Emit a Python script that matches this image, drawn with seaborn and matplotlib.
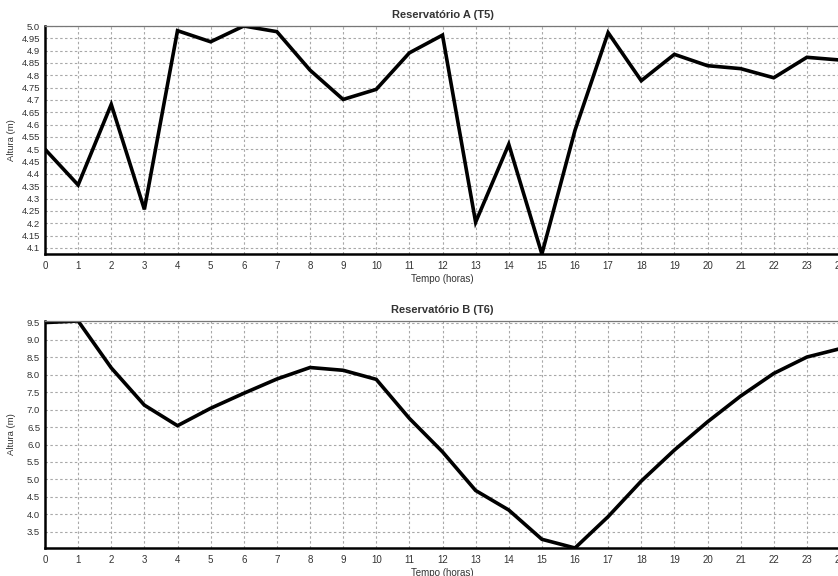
import matplotlib
matplotlib.use("Agg")
import matplotlib.pyplot as plt
import seaborn as sns
import pandas as pd

hours = list(range(25))

nivel_a = [4.500, 4.355, 4.682, 4.256, 4.981, 4.936, 5.000, 4.977, 4.821, 4.702,
           4.743, 4.891, 4.963, 4.204, 4.520, 4.075, 4.577, 4.973, 4.778, 4.885,
           4.839, 4.827, 4.790, 4.873, 4.862]

nivel_b = [9.50, 9.545, 8.20, 7.13, 6.54, 7.04, 7.47, 7.88, 8.21, 8.13,
           7.87, 6.75, 5.79, 4.68, 4.12, 3.28, 3.03, 3.93, 4.95, 5.84,
           6.65, 7.39, 8.04, 8.51, 8.75]

ticks_a = [4.1, 4.15, 4.2, 4.25, 4.3, 4.35, 4.4, 4.45, 4.5, 4.55, 4.6, 4.65,
           4.7, 4.75, 4.8, 4.85, 4.9, 4.95, 5.0]
labels_a = ["4.1", "4.15", "4.2", "4.25", "4.3", "4.35", "4.4", "4.45", "4.5",
            "4.55", "4.6", "4.65", "4.7", "4.75", "4.8", "4.85", "4.9", "4.95", "5.0"]
ticks_b = [3.5, 4.0, 4.5, 5.0, 5.5, 6.0, 6.5, 7.0, 7.5, 8.0, 8.5, 9.0, 9.5]
labels_b = ["3.5", "4.0", "4.5", "5.0", "5.5", "6.0", "6.5", "7.0", "7.5",
            "8.0", "8.5", "9.0", "9.5"]

titles = ["Reservatório A (T5)", "Reservatório B (T6)"]
xlabel = "Tempo (horas)"
ylabel = "Altura (m)"

sns.set_theme(style="white")
plt.rcParams["font.family"] = ["Liberation Sans", "DejaVu Sans"]

W, H = 838, 576
fig = plt.figure(figsize=(W / 100, H / 100), dpi=100)

def px_axes(left, top, right, bottom):
    return fig.add_axes([left / W, 1 - bottom / H, (right - left) / W, (bottom - top) / H])

ax_a = px_axes(45, 26, 840, 254)
ax_b = px_axes(45, 321, 840, 548)

panels = [
    (ax_a, nivel_a, ticks_a, labels_a, titles[0]),
    (ax_b, nivel_b, ticks_b, labels_b, titles[1]),
]

for ax, vals, yt, yl, title in panels:
    df = pd.DataFrame({"hora": hours, "altura": vals})
    sns.lineplot(data=df, x="hora", y="altura", ax=ax, color="black",
                 linewidth=2.6, solid_joinstyle="miter")
    ax.set_xlim(0, 24)
    ax.set_ylim(min(vals), max(vals))
    ax.set_xticks(hours)
    ax.set_xticklabels([str(h) for h in hours])
    ax.set_yticks(yt)
    ax.set_yticklabels(yl)
    ax.grid(True, color="#a8a8a8", linestyle=(0, (2.2, 2.2)), linewidth=0.8)
    ax.tick_params(axis="x", length=0, labelsize=7, colors="#333333", pad=5)
    ax.tick_params(axis="y", length=0, labelsize=6.8, colors="#333333", pad=3.5)
    ax.set_xlabel(xlabel, fontsize=7, color="#333333", labelpad=2)
    ax.set_ylabel(ylabel, fontsize=6.8, color="#333333")
    ax.yaxis.set_label_coords(-0.036, 0.5)
    ax.set_title(title, fontsize=8, fontweight="bold", color="#333333", pad=6)
    for side in ("left", "bottom"):
        ax.spines[side].set_color("black")
        ax.spines[side].set_linewidth(1.8)
    for side in ("top", "right"):
        ax.spines[side].set_color("#777777")
        ax.spines[side].set_linewidth(0.9)
    for lab in ax.get_xticklabels() + ax.get_yticklabels():
        lab.set_clip_on(False)

fig.savefig("out.png", dpi=100)
